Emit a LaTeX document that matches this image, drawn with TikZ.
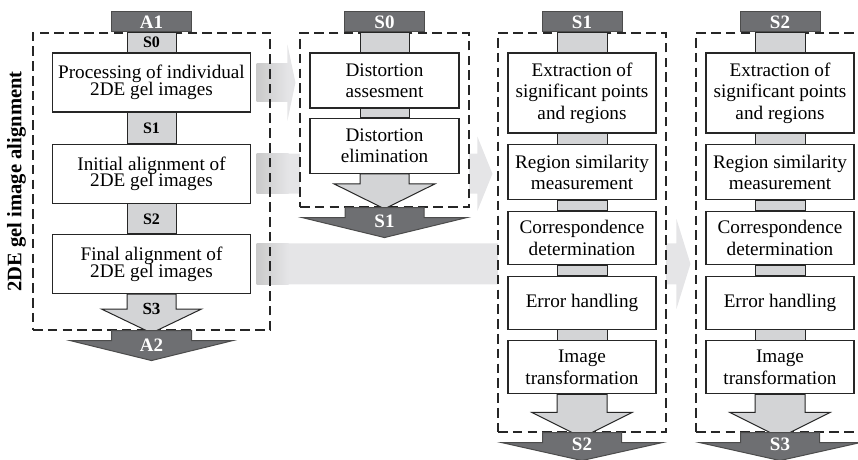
\documentclass[tikz,border=0pt]{standalone}
\usepackage{fontspec}
\setmainfont{Liberation Serif}
\usepackage{tikz}
\usetikzlibrary{calc,positioning,backgrounds}

\definecolor{tabgray}{RGB}{110,111,114}
\definecolor{conngray}{RGB}{211,212,214}
\definecolor{flowgray}{RGB}{229,229,231}

\newcommand{\tightfont}{\fontsize{9.6}{8.4}\selectfont\setlength{\lineskiplimit}{-3pt}}
% down arrow: style, top point, shaft half width, shaft length, head half width, head length
\newcommand{\flowdown}[6]{%
  \draw[#1] ($(#2)+(-#3,0)$) -- ++(0,#4) -- ++({#3-#5},0) -- ++(#5,#6)
    -- ++(#5,-#6) -- ++({#3-#5},0) -- ++(0,-#4) -- cycle;}
% wide grey arrow: start, tip, body half height, head length, head half height
\newcommand{\flowright}[5]{%
  \fill[flowgray] ($(#1)+(0,-#3)$) -- ($(#2)+(-#4,-#3)$) -- ($(#2)+(-#4,-#5)$) -- (#2)
    -- ($(#2)+(-#4,#5)$) -- ($(#2)+(-#4,#3)$) -- ($(#1)+(0,#3)$) -- cycle;
  \shade[left color=gray!42, right color=flowgray] ($(#1)+(0,-#3)$) rectangle ($(#1)+(32,#3)$);}

\begin{document}
\begin{tikzpicture}[x=0.5pt, y=-0.5pt,
panel/.style={draw=black!85, line width=0.55pt, dash pattern=on 4.8pt off 2.6pt, inner sep=0pt},
tab/.style={draw=black!70, line width=0.5pt, fill=tabgray, text=white, font=\bfseries\fontsize{9.5}{10}\selectfont, minimum width=40pt, minimum height=10pt, inner sep=0pt},
procbox/.style={draw=black!85, line width=0.6pt, fill=white, align=center, inner sep=0pt, font=\fontsize{9.6}{10.8}\selectfont},
tight/.style={font=\tightfont},
conn/.style={draw=black!85, line width=0.5pt, fill=conngray},
darkarr/.style={draw=black!70, line width=0.5pt, fill=tabgray},
connlab/.style={font=\bfseries\fontsize{8}{9}\selectfont, inner sep=0pt},
darklab/.style={font=\bfseries\fontsize{9.5}{10}\selectfont, text=white, inner sep=0pt}
]
\useasboundingbox (0,0) rectangle (858,460);

% panel A
\node[panel, minimum width=118.5pt, minimum height=148.5pt] (panA) at (151.5,181.5) {};
\node[tab, above=0pt of panA] (tabA) {A1};
\node[procbox, tight, minimum width=99pt, minimum height=29.5pt, below=10pt of tabA] (pA1) {Processing of individual\\2DE gel images};
\node[procbox, tight, minimum width=99pt, minimum height=29.5pt, below=15.5pt of pA1] (pA2) {Initial alignment of\\2DE gel images};
\node[procbox, tight, minimum width=99pt, minimum height=29.5pt, below=15pt of pA2] (pA3) {Final alignment of\\2DE gel images};
\node[rotate=90, font=\bfseries\fontsize{10.3}{11}\selectfont] (title) at ($(panA.west)+(-16,0)$) {2DE gel image alignment};

\draw[conn] ($(tabA.south)+(-24.5,0)$) rectangle ($(pA1.north)+(24.5,0)$);
\draw[conn] ($(pA1.south)+(-24.5,0)$) rectangle ($(pA2.north)+(24.5,0)$);
\draw[conn] ($(pA2.south)+(-24.5,0)$) rectangle ($(pA3.north)+(24.5,0)$);
\node[connlab] (lA0) at ($(tabA.south)!0.5!(pA1.north)$) {S0};
\node[connlab] (lA1) at ($(pA1.south)!0.5!(pA2.north)$) {S1};
\node[connlab] (lA2) at ($(pA2.south)!0.5!(pA3.north)$) {S2};
\flowdown{conn}{pA3.south}{24.5}{15}{50}{24}
\node[connlab, font=\bfseries\fontsize{8.5}{9}\selectfont] (lA3) at ($(pA3.south)+(0,15)$) {S3};
\flowdown{darkarr}{panA.south}{40}{10}{81.5}{20}
\node[darklab] (lA4) at ($(panA.south)+(0,15)$) {A2};

% panel S0
\node[panel, fill=white, minimum width=84.5pt, minimum height=87pt] (panB) at (384.5,120) {};
\node[tab, above=0pt of panB] (tabB) {S0};
\node[procbox, minimum width=74.5pt, minimum height=27.5pt, below=10pt of tabB] (pB1) {Distortion\\assesment};
\node[procbox, minimum width=74.5pt, minimum height=27.5pt, below=4.5pt of pB1] (pB2) {Distortion\\elimination};
\draw[conn] ($(tabB.south)+(-24.5,0)$) rectangle ($(pB1.north)+(24.5,0)$);
\draw[conn] ($(pB1.south)+(-24.5,0)$) rectangle ($(pB2.north)+(24.5,0)$);
\flowdown{conn}{pB2.south}{24.5}{10}{50.5}{25}
\flowdown{darkarr}{panB.south}{39.5}{10}{82.5}{20}
\node[darklab] (lB) at ($(panB.south)+(0,14)$) {S1};

% panel S1
\node[panel, fill=white, minimum width=84pt, minimum height=199.5pt] (panC) at (582,232.5) {};
\node[tab, above=0pt of panC] (tabC) {S1};
\node[procbox, minimum width=74pt, minimum height=40pt, below=10pt of tabC] (pC1) {Extraction of\\significant points\\and regions};
\node[procbox, minimum width=74pt, minimum height=27.5pt, below=5.25pt of pC1] (pC2) {Region similarity\\measurement};
\node[procbox, minimum width=74pt, minimum height=26.5pt, below=5.25pt of pC2] (pC3) {Correspondence\\determination};
\node[procbox, minimum width=74pt, minimum height=26.5pt, below=5.25pt of pC3] (pC4) {Error handling};
\node[procbox, minimum width=74pt, minimum height=26.5pt, below=5.25pt of pC4] (pC5) {Image\\transformation};
\draw[conn] ($(tabC.south)+(-25,0)$) rectangle ($(pC1.north)+(25,0)$);
\draw[conn] ($(pC1.south)+(-25,0)$) rectangle ($(pC2.north)+(25,0)$);
\draw[conn] ($(pC2.south)+(-25,0)$) rectangle ($(pC3.north)+(25,0)$);
\draw[conn] ($(pC3.south)+(-25,0)$) rectangle ($(pC4.north)+(25,0)$);
\draw[conn] ($(pC4.south)+(-25,0)$) rectangle ($(pC5.north)+(25,0)$);
\flowdown{conn}{pC5.south}{25}{18}{50}{25}
\flowdown{darkarr}{panC.south}{39.5}{10}{80.5}{18}
\node[darklab] (lC) at ($(panC.south)+(0,12)$) {S2};

% panel S2
\node[panel, fill=white, minimum width=84pt, minimum height=199.5pt] (panD) at (780,232.5) {};
\node[tab, above=0pt of panD] (tabD) {S2};
\node[procbox, minimum width=74pt, minimum height=40pt, below=10pt of tabD] (pD1) {Extraction of\\significant points\\and regions};
\node[procbox, minimum width=74pt, minimum height=27.5pt, below=5.25pt of pD1] (pD2) {Region similarity\\measurement};
\node[procbox, minimum width=74pt, minimum height=26.5pt, below=5.25pt of pD2] (pD3) {Correspondence\\determination};
\node[procbox, minimum width=74pt, minimum height=26.5pt, below=5.25pt of pD3] (pD4) {Error handling};
\node[procbox, minimum width=74pt, minimum height=26.5pt, below=5.25pt of pD4] (pD5) {Image\\transformation};
\draw[conn] ($(tabD.south)+(-25,0)$) rectangle ($(pD1.north)+(25,0)$);
\draw[conn] ($(pD1.south)+(-25,0)$) rectangle ($(pD2.north)+(25,0)$);
\draw[conn] ($(pD2.south)+(-25,0)$) rectangle ($(pD3.north)+(25,0)$);
\draw[conn] ($(pD3.south)+(-25,0)$) rectangle ($(pD4.north)+(25,0)$);
\draw[conn] ($(pD4.south)+(-25,0)$) rectangle ($(pD5.north)+(25,0)$);
\flowdown{conn}{pD5.south}{25}{18}{50}{25}
\flowdown{darkarr}{panD.south}{39.5}{10}{80.5}{18}
\node[darklab] (lD) at ($(panD.south)+(0,12)$) {S3};

% grey arrows between panels
\begin{pgfonlayer}{background}
\coordinate (g1s) at ($(pA1.east)+(5.5,0)$);
\coordinate (g1e) at ($(panB.west |- pA1.east)+(-4,0)$);
\flowright{g1s}{g1e}{19}{8}{38}
\coordinate (g2s) at ($(pA2.east)+(5.5,0)$);
\coordinate (g2e) at ($(panC.west |- pA2.east)+(-5,0)$);
\flowright{g2s}{g2e}{20}{15}{37}
\coordinate (g3s) at ($(pA3.east)+(5.5,0)$);
\coordinate (g3e) at ($(panD.west |- pA3.east)+(-5,0)$);
\flowright{g3s}{g3e}{20.5}{14}{45}
\end{pgfonlayer}
\end{tikzpicture}
\end{document}
